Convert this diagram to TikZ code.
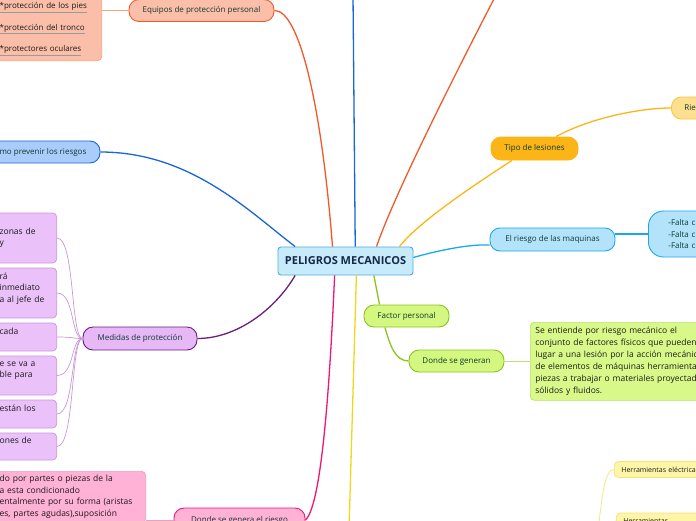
\documentclass[tikz,border=0pt]{standalone}
\usepackage{fontspec}
\setmainfont{Open Sans}
\usetikzlibrary{positioning}

\definecolor{titlefill}{HTML}{C8EBFB}
\definecolor{titleline}{HTML}{4DAAE2}
\definecolor{titletxt}{HTML}{14284B}
\definecolor{txt}{HTML}{0E3A30}
\definecolor{leaftxt}{HTML}{1A1A1A}
\definecolor{orng}{HTML}{F0592A}
\definecolor{orngfill}{HTML}{FBBEA8}
\definecolor{orngleaf}{HTML}{F8A585}
\definecolor{blu}{HTML}{1766DA}
\definecolor{blufill}{HTML}{A9CCFA}
\definecolor{purp}{HTML}{6C1D7C}
\definecolor{purpfill}{HTML}{E7B8F6}
\definecolor{purpleaf}{HTML}{C996DA}
\definecolor{purpleaffill}{HTML}{EBC1FA}
\definecolor{pnk}{HTML}{EE1677}
\definecolor{pnkfill}{HTML}{FFB1D6}
\definecolor{pnkleaf}{HTML}{F59AC6}
\definecolor{goldy}{HTML}{FBB517}
\definecolor{goldfill}{HTML}{FDDF90}
\definecolor{goldline}{HTML}{FBC53E}
\definecolor{cyn}{HTML}{1BA8EA}
\definecolor{cynfill}{HTML}{B2E3FB}
\definecolor{grn}{HTML}{8DC21F}
\definecolor{grnfill}{HTML}{D4F77F}
\definecolor{grnleaf}{HTML}{BADF72}
\definecolor{grnleaffill}{HTML}{D8F98A}
\definecolor{ylw}{HTML}{EFD81A}
\definecolor{ylwfill}{HTML}{FFF5A8}
\definecolor{ylwleaf}{HTML}{F3E27A}
\definecolor{ulgray}{HTML}{9A9A9A}

\newcommand\lineunder[1]{{\color{ulgray}\underline{\textcolor{leaftxt}{#1}}}}

\begin{document}
\begin{tikzpicture}[x=1pt,y=-1pt,
    every node/.style={font=\fontsize{8}{11.5}\selectfont,text=txt},
    pill/.style={draw,rounded corners=10pt,line width=0.9pt,inner sep=0pt},
    leaf/.style={draw,rounded corners=4pt,line width=0.7pt,align=left,inner xsep=4pt,inner ysep=3pt,text=leaftxt,
                 font=\fontsize{8.5}{11.5}\selectfont},
    branch/.style={line width=1.3pt},
    twig/.style={line width=0.7pt}
]
\useasboundingbox (0,0) rectangle (696,520);
\clip (0,0) rectangle (696,520);

% centre
\node[draw=titleline,fill=titlefill,rounded corners=3pt,line width=0.9pt,minimum width=135pt,minimum height=28pt,
      font=\fontsize{11}{12}\selectfont\bfseries,text=titletxt] (title) at (345.5,261) {PELIGROS MECANICOS};

% orange
\node[pill,draw=orng,fill=orngfill,minimum width=145pt,minimum height=22pt] (epp) at (201.5,10.5) {Equipos de protección personal};
\node[leaf,draw=orngleaf,fill=orngfill,anchor=south east,text width=98pt,inner ysep=5pt,
      font=\fontsize{8}{21.5}\selectfont] (eppl) at (102,61)
  {\lineunder{*protección de los pies}\\\lineunder{*protección del tronco}\\\lineunder{*protectores oculares}};

% blue
\node[pill,draw=blu,fill=blufill,minimum width=124pt,minimum height=22pt] (prev) at (38,152) {Como prevenir los riesgos};

% purple
\node[pill,draw=purp,fill=purpfill,minimum width=114pt,minimum height=23pt] (med) at (140,338.5) {Medidas de protección};
\node[leaf,draw=purpleaf,fill=purpleaffill,anchor=east,text width=53pt,minimum height=50pt] (m1) at (57,238) {zonas de\\y};
\node[leaf,draw=purpleaf,fill=purpleaffill,anchor=east,text width=53pt,minimum height=50pt] (m2) at (57,293) {rá\\inmediato\\a al jefe de\\\mbox{}};
\node[leaf,draw=purpleaf,fill=purpleaffill,anchor=east,text width=53pt,minimum height=28pt] (m3) at (57,337) {cada\\\mbox{}};
\node[leaf,draw=purpleaf,fill=purpleaffill,anchor=east,text width=53pt,minimum height=39pt] (m4) at (57,375.5) {e se va a\\ble para\\\mbox{}};
\node[leaf,draw=purpleaf,fill=purpleaffill,anchor=east,text width=53pt,minimum height=28pt] (m5) at (57,414) {están los\\\mbox{}};
\node[leaf,draw=purpleaf,fill=purpleaffill,anchor=east,text width=53pt,minimum height=27pt] (m6) at (57,446.5) {ones de\\\mbox{}};

% pink
\node[pill,draw=pnk,fill=pnkfill,minimum width=131pt,minimum height=24pt] (gen) at (239.5,520) {Donde se genera el riesgo};
\node[leaf,draw=pnkleaf,fill=pnkfill,anchor=north east,text width=142pt,inner ysep=4pt] (genl) at (146,471)
  {do por partes o piezas de la\\a esta condicionado\\entalmente por su forma (aristas\\es, partes agudas),suposición};

% gold
\node[pill,draw=goldy,fill=goldy,minimum width=87pt,minimum height=23pt] (les) at (534.5,148.5) {Tipo de lesiones};
\node[pill,draw=goldline,fill=goldfill,anchor=west,minimum height=22pt,text width=50pt,align=left,inner xsep=13pt] (rie) at (671,108) {Rie};

% cyan
\node[pill,draw=cyn,fill=cynfill,minimum width=125pt,minimum height=23pt] (maq) at (552.5,239.5) {El riesgo de las maquinas};
\node[pill,draw=cyn,fill=cynfill,rounded corners=15pt,anchor=west,minimum height=46pt,text width=60pt,align=left,inner xsep=20pt] (falta) at (648,234)
  {-Falta c\\-Falta c\\-Falta c};

% green
\node[pill,draw=grn,fill=grnfill,minimum width=85pt,minimum height=22pt] (fac) at (406.5,316) {Factor personal};
\node[pill,draw=grn,fill=grnfill,minimum width=95pt,minimum height=22pt] (dse) at (456.5,361) {Donde se generan};
\node[leaf,draw=grnleaf,fill=grnleaffill,anchor=north west,text width=200pt,minimum height=78pt,inner xsep=5pt,
      font=\fontsize{8.5}{12}\selectfont] (def) at (530,322)
  {Se entiende por riesgo mecánico el\\conjunto de factores físicos que pueden\\lugar a una lesión por la acción mecánica\\de elementos de máquinas herramienta\\piezas a trabajar o materiales proyectad\\sólidos y fluidos.};

% yellow
\node[leaf,draw=ylwleaf,fill=ylwfill,anchor=west,minimum height=16pt,text width=100pt,inner xsep=7pt,
      font=\fontsize{7}{8}\selectfont] (ele) at (614,469.5) {Herramientas eléctrica};
\node[leaf,draw=ylwleaf,fill=ylwfill,anchor=west,minimum height=16pt,text width=100pt,inner xsep=7pt,
      font=\fontsize{7}{8}\selectfont] (man) at (616,521) {Herramientas};

\coordinate (bluend) at (353,-5);
\coordinate (orngend) at (496,-5);
\coordinate (ylwend) at (349,530);
\coordinate (hroot) at (598,530);

% branches
\draw[branch,blu] (title.56) -- (bluend);
\draw[branch,orng] (title.25) .. controls (396,190) and (464,57) .. (orngend);
\draw[branch,orng] (title.132) .. controls (322,110) and (300,10) .. (epp.east);
\draw[branch,blu] (prev.east) .. controls (190,152) and (248.7,211) .. (title.164);
\draw[branch,purp] (title.196) .. controls (275.6,309) and (237,338.5) .. (med.east);
\draw[branch,pnk] (title.233) .. controls (330,380) and (322,505) .. (gen.east);
\draw[branch,ylw] (title.307) -- (ylwend);
\draw[branch,grn] (title.333) -- (fac.157);
\draw[branch,grn] (fac.208) .. controls (390,345) and (395,361) .. (dse.west);
\draw[branch,goldy] (title.15) .. controls (420,220) and (485,178) .. (les.208);
\draw[branch,goldy] (les.29) .. controls (590,118) and (640,108) .. (rie.west);
\draw[branch,cyn] (title.3) .. controls (440,250) and (470,244) .. (maq.185);
\draw[branch,cyn] (maq.east |- falta.west) -- (falta.west);

% twigs
\draw[twig,orngleaf] (eppl.east |- epp.west) -- (epp.west);
\foreach \m in {m1,m2,m3,m4,m5,m6}
  \draw[twig,purpleaf] (\m.east) .. controls +(18,0) and +(-12,0) .. (med.west);
\draw[twig,pnkleaf] (genl.east |- gen.west) -- (gen.west);
\draw[twig,grnleaf] (dse.east) -- (dse.east -| def.west);
\draw[twig,ylwleaf] (hroot) .. controls (602,500) and (604,469.5) .. (ele.west);
\draw[twig,ylwleaf] (hroot) .. controls (605,528) and (610,521) .. (man.west);
\end{tikzpicture}
\end{document}
